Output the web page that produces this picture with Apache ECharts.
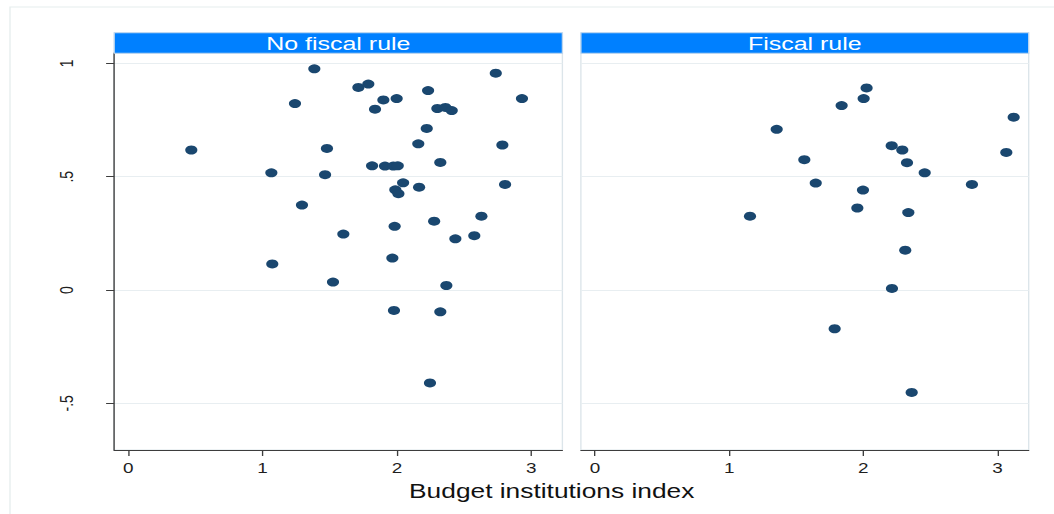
<!DOCTYPE html>
<html>
<head>
<meta charset="utf-8">
<script src="https://cdn.jsdelivr.net/npm/echarts@6/dist/echarts.min.js"></script>
<style>
  html, body { margin: 0; padding: 0; background: #fff; overflow: hidden; }
  #wrap { width: 1054px; height: 514px; overflow: hidden; }
  #chart { height: 514px; transform-origin: 0 0; }
</style>
</head>
<body>
<div id="wrap"><div id="chart"></div></div>
<script>
// Panel titles and axis text
const panelTitles = ['No fiscal rule', 'Fiscal rule'];
const xTitle = 'Budget institutions index';

// Tick values and labels
const xTickValues = [0, 1, 2, 3];
const yTickValues = [-0.5, 0, 0.5, 1];
const yTickLabels = ['-.5', '0', '.5', '1'];

// Countries without a fiscal rule
const xNoRule = [1.385, 2.736, 1.713, 1.787, 2.232, 1.241, 1.899, 1.998, 2.931, 1.837,
                 2.301, 2.361, 2.408, 2.222, 0.469, 1.479, 2.159, 2.785, 1.815, 1.911,
                 1.973, 2.006, 2.323, 1.065, 1.465, 2.046, 2.805, 2.165, 1.988, 2.011,
                 1.293, 2.629, 2.277, 1.983, 1.601, 2.435, 2.576, 1.966, 1.072, 1.524,
                 2.368, 1.978, 2.323, 2.246];
const yNoRule = [0.976, 0.957, 0.894, 0.909, 0.880, 0.823, 0.839, 0.845, 0.845, 0.798,
                 0.801, 0.806, 0.792, 0.713, 0.618, 0.625, 0.645, 0.640, 0.548, 0.547,
                 0.547, 0.548, 0.563, 0.517, 0.509, 0.473, 0.466, 0.454, 0.442, 0.425,
                 0.375, 0.326, 0.304, 0.281, 0.247, 0.226, 0.240, 0.141, 0.115, 0.035,
                 0.020, -0.090, -0.096, -0.410];

// Countries with a fiscal rule
const xRule = [2.024, 2.002, 1.838, 3.120, 1.354, 2.211, 2.290, 3.065, 1.560, 2.325,
               2.457, 1.645, 2.809, 1.997, 1.955, 2.335, 1.155, 2.312, 2.213, 1.786,
               2.360];
const yRule = [0.892, 0.845, 0.814, 0.763, 0.709, 0.637, 0.618, 0.607, 0.575, 0.562,
               0.517, 0.472, 0.466, 0.441, 0.362, 0.342, 0.326, 0.176, 0.007, -0.171,
               -0.452];

// The figure is laid out narrow and stretched horizontally, like the exported graph.
const STRETCH = 1.35;
const W = 1054, H = 514;
const fx = v => v / STRETCH;

const el = document.getElementById('chart');
el.style.width = (W / STRETCH) + 'px';
el.style.transform = 'scaleX(' + STRETCH + ')';

const FONT = '"Liberation Sans", Arial, Helvetica, sans-serif';
const AXIS_COLOR = '#3d3d3d';
const GRID_COLOR = '#e8eef1';
const FRAME_COLOR = '#dce5ea';
const MARKER_COLOR = '#1a476f';
const STRIP_COLOR = '#0080ff';

// Panel placement (final pixel units)
const panels = [
  { left: 114.2, width: 448.2 },
  { left: 580.9, width: 447.8 }
];
const plotTop = 53, plotHeight = 397;
const stripTop = 32.7, stripHeight = 20.6;

const zip = (xs, ys) => xs.map((x, i) => [x, ys[i]]);
const seriesData = [zip(xNoRule, yNoRule), zip(xRule, yRule)];

const grids = panels.map(p => ({
  left: fx(p.left), top: plotTop, width: fx(p.width), height: plotHeight,
  show: true, borderColor: FRAME_COLOR, borderWidth: 1, backgroundColor: '#fff',
  containLabel: false
}));

const xAxes = panels.map((p, i) => ({
  type: 'value', gridIndex: i, min: -0.105, max: 3.232,
  axisLine: { show: true, onZero: false, lineStyle: { color: AXIS_COLOR, width: 1 } },
  axisTick: { show: true, length: 6, customValues: xTickValues, lineStyle: { color: AXIS_COLOR } },
  axisLabel: { customValues: xTickValues, margin: 11, fontSize: 14, color: '#1e1e1e', fontFamily: FONT },
  splitLine: { show: false }
}));

const yAxes = panels.map((p, i) => ({
  type: 'value', gridIndex: i, min: -0.706, max: 1.046,
  axisLine: { show: i === 0, onZero: false, lineStyle: { color: AXIS_COLOR, width: 1 } },
  axisTick: { show: i === 0, length: 6, customValues: yTickValues, lineStyle: { color: AXIS_COLOR } },
  axisLabel: {
    show: i === 0, customValues: yTickValues, rotate: 90, margin: 28,
    fontSize: 14, color: '#1e1e1e', fontFamily: FONT,
    formatter: v => {
      const k = yTickValues.findIndex(t => Math.abs(t - v) < 1e-9);
      return k >= 0 ? yTickLabels[k] : '';
    }
  },
  splitLine: { show: true, lineStyle: { color: GRID_COLOR, width: 1 } }
}));

const series = seriesData.map((d, i) => ({
  type: 'scatter', xAxisIndex: i, yAxisIndex: i, data: d,
  symbol: 'circle', symbolSize: 9,
  itemStyle: { color: MARKER_COLOR, opacity: 1 },
  z: 5
}));

const graphic = [
  // outer figure frame
  { type: 'rect', silent: true, z: -10,
    shape: { x: fx(10), y: 7, width: fx(1100), height: 600 },
    style: { fill: 'none', stroke: '#e6eded', lineWidth: 1 } }
];
panels.forEach((p, i) => {
  graphic.push({ type: 'rect', silent: true, z: 10,
    shape: { x: fx(p.left), y: stripTop, width: fx(p.width), height: stripHeight },
    style: { fill: STRIP_COLOR, stroke: '#bcd5ee', lineWidth: 1 } });
  graphic.push({ type: 'text', silent: true, z: 11,
    x: fx(p.left + p.width / 2), y: stripTop + stripHeight / 2 + 0.5,
    style: { text: panelTitles[i], fill: '#ffffff', font: '18.5px ' + FONT,
             textAlign: 'center', textVerticalAlign: 'middle', align: 'center', verticalAlign: 'middle' } });
});
graphic.push({ type: 'text', silent: true, z: 11,
  x: fx(551.7), y: 491.5,
  style: { text: xTitle, fill: '#111', font: '19.5px ' + FONT,
           textAlign: 'center', textVerticalAlign: 'middle', align: 'center', verticalAlign: 'middle' } });

const chart = echarts.init(el, null, { renderer: 'svg', width: W / STRETCH, height: H });
chart.setOption({
  animation: false,
  backgroundColor: '#ffffff',
  grid: grids,
  xAxis: xAxes,
  yAxis: yAxes,
  series: series,
  graphic: graphic
});
</script>
</body>
</html>
